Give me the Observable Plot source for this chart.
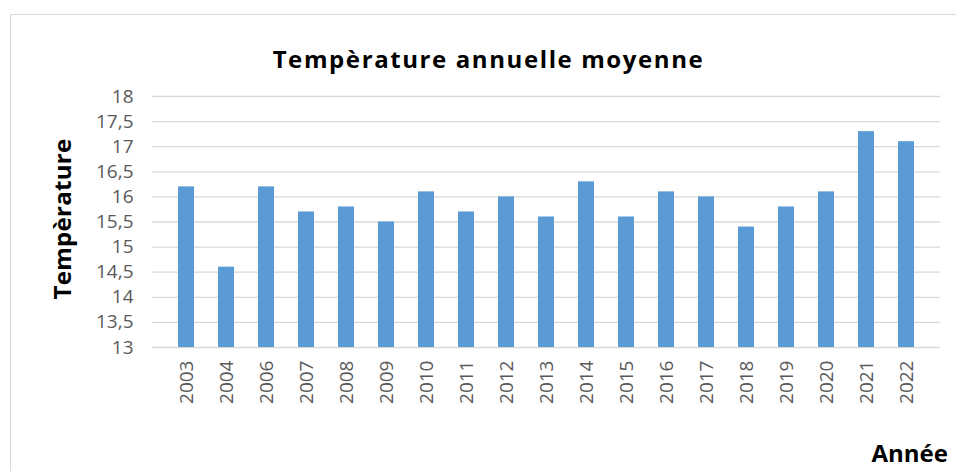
<!DOCTYPE html>
<html>
<head>
<meta charset="utf-8">
<script src="https://cdn.jsdelivr.net/npm/d3@7"></script>
<script src="https://cdn.jsdelivr.net/npm/@observablehq/plot@0.6"></script>
<style>
  body { margin: 0; background: #fff; overflow: hidden; }
  #wrap { position: relative; width: 956px; height: 471px; overflow: hidden; }
  #border { position: absolute; left: 10px; top: 14px; width: 1000px; height: 500px;
            border-left: 1px solid #d9d9d9; border-top: 1px solid #d9d9d9; }
  #chart { position: absolute; left: 0; top: 0; }
  svg { overflow: hidden; }
</style>
</head>
<body>
<div id="wrap"><div id="border"></div><div id="chart"></div></div>
<script>
const years = ["2003","2004","2006","2007","2008","2009","2010","2011","2012","2013","2014","2015","2016","2017","2018","2019","2020","2021","2022"];
const temperatures = [16.2,14.6,16.2,15.7,15.8,15.5,16.1,15.7,16.0,15.6,16.3,15.6,16.1,16.0,15.4,15.8,16.1,17.3,17.1];
const yTicks = [13,13.5,14,14.5,15,15.5,16,16.5,17,17.5,18];
const title = "Tempèrature annuelle moyenne";
const yLabel = "Tempèrature";
const xLabel = "Année";

const data = years.map((y, i) => ({year: y, temp: temperatures[i]}));
const fmt = d => String(d).replace(".", ",");
const font = "'Open Sans', 'Noto Sans', sans-serif";

const chart = Plot.plot({
  width: 956,
  height: 471,
  marginLeft: 152,
  marginRight: 16,
  marginTop: 96,
  marginBottom: 124,
  style: {fontFamily: font, background: "transparent"},
  x: {domain: years, padding: 0.6, label: null},
  y: {domain: [13, 18], label: null},
  marks: [
    Plot.gridY(yTicks, {stroke: "#d9d9d9", strokeOpacity: 1, strokeWidth: 1.3}),
    Plot.rectY(data, {x: "year", y1: 13, y2: "temp", fill: "#5b9bd5"}),
    Plot.axisY(yTicks, {tickSize: 0, tickPadding: 19, tickFormat: fmt, fontSize: 19, fill: "#595959", label: null}),
    Plot.axisX({tickSize: 0, tickRotate: -90, tickPadding: 13, fontSize: 19, fill: "#595959", label: null}),
    Plot.text([title], {frameAnchor: "top", dx: -58, dy: -46, fontSize: 24, fontWeight: "bold", fill: "#000"}),
    Plot.text([yLabel], {frameAnchor: "left", dx: -89, dy: -3, rotate: -90, textAnchor: "middle", fontSize: 24, fontWeight: "bold", fill: "#000"}),
    Plot.text([xLabel], {frameAnchor: "bottom-right", dx: -69, dy: 114, textAnchor: "start", lineAnchor: "bottom", fontSize: 24, fontWeight: "bold", fill: "#000"})
  ]
});
d3.select(chart).selectAll("text").filter(function() { return this.textContent === title; })
  .attr("letter-spacing", "1.6px");
d3.select(chart).selectAll("text").filter(function() { return this.textContent === yLabel; })
  .attr("letter-spacing", "0.3px");
document.getElementById("chart").appendChild(chart);
</script>
</body>
</html>
